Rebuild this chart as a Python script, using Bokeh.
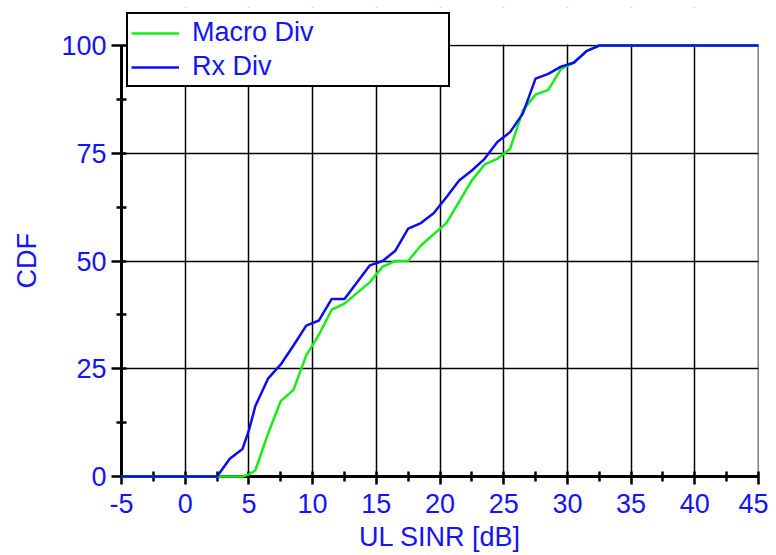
from bokeh.plotting import figure
from bokeh.models import Range1d, FixedTicker, Legend, LegendItem
from bokeh.embed import file_html
from bokeh.resources import INLINE

# Data
sinr_rx = [-5, 2.5, 3.5, 4.5, 5.0, 5.5, 6.5, 7.5, 8.5, 9.5, 10.5, 11.5, 12.5, 14.5, 15.5,
           16.5, 17.5, 18.5, 19.5, 20.5, 21.5, 22.5, 23.5, 24.5, 25.5, 26.5, 27.5, 28.5,
           29.5, 30.5, 31.5, 32.5, 45]
cdf_rx = [0, 0, 4.1, 6.4, 10.7, 16.3, 22.7, 26.0, 30.4, 35.0, 36.2, 41.2, 41.2, 49.0, 50.0,
          52.4, 57.5, 58.8, 61.1, 64.8, 68.7, 71.0, 73.7, 77.6, 79.9, 84.2, 92.3, 93.4,
          95.1, 96.0, 98.7, 100, 100]

sinr_macro = [-5, 4.5, 5.0, 5.5, 6.5, 7.5, 8.5, 9.5, 10.5, 11.5, 12.5, 14.5, 15.5, 16.5,
              17.5, 18.5, 20.5, 22.5, 23.5, 24.5, 25.5, 26.5, 27.5, 28.5, 29.5, 30.5,
              31.5, 32.5, 45]
cdf_macro = [0, 0, 0.5, 1.4, 9.9, 17.5, 20.1, 28.1, 32.9, 38.7, 40.1, 45.1, 48.7, 50.0,
             50.0, 53.6, 58.8, 68.7, 72.4, 73.7, 76.0, 84.9, 88.6, 89.7, 94.6, 96.0,
             98.7, 100, 100]

x_ticks = [-5, 0, 5, 10, 15, 20, 25, 30, 35, 40, 45]
x_minor = [-2.5, 2.5, 7.5, 12.5, 17.5, 22.5, 27.5, 32.5, 37.5, 42.5]
y_ticks = [0, 25, 50, 75, 100]
y_minor = [12.5, 37.5, 62.5, 87.5]
x_min, x_max = -5, 45
y_min, y_max = 0, 100

series_names = ["Macro Div", "Rx Div"]
series_colors = ["#14EE14", "#0C0CF2"]

FONT = "Liberation Sans"
TXT = "#1414F5"
FS = "27px"

# the frame is extended above 100 so that the legend (which overlaps the top
# edge of the plotting area) is not clipped; that strip is blanked out below.
PLOT_H = 431          # pixel height of the 0..100 area
EXTRA_TOP = 38        # room above 100 for the legend
FRAME_H = PLOT_H + EXTRA_TOP
y_top = y_max + (y_max - y_min) * EXTRA_TOP / PLOT_H

p = figure(frame_width=637, frame_height=FRAME_H, output_backend="svg",
           toolbar_location=None,
           x_range=Range1d(x_min, x_max), y_range=Range1d(y_min, y_top),
           min_border_left=121, min_border_top=7, min_border_right=10,
           min_border_bottom=79)
p.background_fill_color = "white"
p.border_fill_color = "white"
p.outline_line_color = None

# blank strip above the 100 line (hides the grid lines there)
p.quad(left=[x_min], right=[x_max], bottom=[y_max + 0.25], top=[y_top],
       fill_color="white", line_color=None)
# right-hand frame edge
p.segment(x0=[x_max], y0=[y_min], x1=[x_max], y1=[y_max], line_color="black",
          line_width=1.5)

r_macro = p.line(sinr_macro, cdf_macro, line_color=series_colors[0], line_width=2.5,
                 level="overlay")
r_rx = p.line(sinr_rx, cdf_rx, line_color=series_colors[1], line_width=2.5,
              level="overlay")

p.xaxis.ticker = FixedTicker(ticks=x_ticks, minor_ticks=x_minor)
p.yaxis.ticker = FixedTicker(ticks=y_ticks, minor_ticks=y_minor)
p.yaxis.bounds = (y_min, y_max)
p.xaxis.major_label_overrides = {-5: "-5"}

for ax in (p.xaxis, p.yaxis):
    ax.axis_line_color = "black"
    ax.axis_line_width = 3
    ax.major_tick_line_color = "black"
    ax.major_tick_line_width = 2.5
    ax.minor_tick_line_color = "black"
    ax.minor_tick_line_width = 2.5
    ax.major_tick_in = 5
    ax.minor_tick_in = 5
    ax.minor_tick_out = 5
    ax.major_label_text_font = FONT
    ax.major_label_text_font_size = FS
    ax.major_label_text_color = TXT
    ax.axis_label_text_font = FONT
    ax.axis_label_text_font_size = FS
    ax.axis_label_text_color = TXT
    ax.axis_label_text_font_style = "normal"

p.xaxis.axis_label = "UL SINR [dB]"
# trailing no-break spaces move the rotated label down to the middle of 0..100
p.yaxis.axis_label = "CDF" + "\u00a0" * 5
p.xaxis.major_tick_out = 8
p.yaxis.major_tick_out = 10
p.xaxis.major_label_standoff = 9
p.xaxis.axis_label_standoff = 6
p.yaxis.major_label_standoff = 5
p.yaxis.axis_label_standoff = 16

for g in (p.xgrid, p.ygrid):
    g.grid_line_color = "black"
    g.grid_line_width = 1.5
    g.grid_line_alpha = 1.0

legend = Legend(items=[LegendItem(label=series_names[0], renderers=[r_macro]),
                       LegendItem(label=series_names[1], renderers=[r_rx])],
                location="top_left")
legend.label_text_font = FONT
legend.label_text_font_size = FS
legend.label_text_color = TXT
legend.border_line_color = "black"
legend.border_line_alpha = 1.0
legend.border_line_width = 2.5
legend.background_fill_color = "white"
legend.background_fill_alpha = 1.0
legend.padding = 3
legend.spacing = 3
legend.margin = 5
legend.glyph_width = 48
legend.glyph_height = 30
legend.label_height = 30
legend.label_standoff = 13
legend.label_width = 253
p.add_layout(legend, "center")

open("out.html", "w").write(file_html(p, INLINE))
